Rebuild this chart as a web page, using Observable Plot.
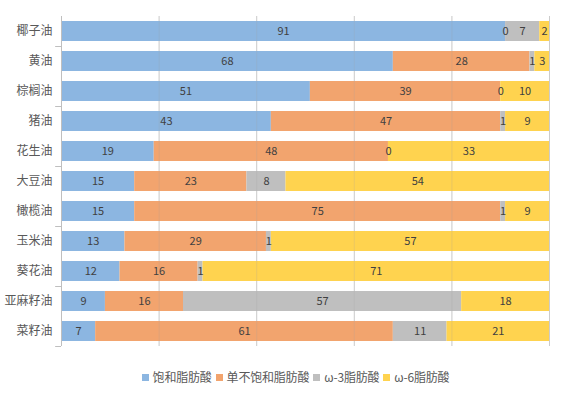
<!DOCTYPE html>
<html><head><meta charset="utf-8">
<script src="https://cdn.jsdelivr.net/npm/d3@7"></script>
<script src="https://cdn.jsdelivr.net/npm/@observablehq/plot@0.6"></script>
<style>
body{margin:0;background:#fff;font-family:"Noto Sans CJK SC","Noto Sans",sans-serif;}
#chart svg{display:block;}
#legend{display:flex;justify-content:center;align-items:center;font-size:12px;color:#595959;margin-top:9px;padding-left:30px;line-height:16px;letter-spacing:-0.2px;}
#legend .item{display:flex;align-items:center;margin-right:4px;}
#legend .sw{width:7px;height:7px;margin-right:4px;}
</style></head><body>
<div id="chart"></div>
<div id="legend"></div>
<script>
const oils = ["椰子油","黄油","棕榈油","猪油","花生油","大豆油","橄榄油","玉米油","葵花油","亚麻籽油","菜籽油"];
const series = ["饱和脂肪酸","单不饱和脂肪酸","ω-3脂肪酸","ω-6脂肪酸"];
const colors = ["#8cb6e1","#f2a46e","#bfbfbf","#ffd34f"];
const saturated = [91,68,51,43,19,15,15,13,12,9,7];
const mono = [0,28,39,47,48,23,75,29,16,16,61];
const omega3 = [7,1,0,1,0,8,1,1,1,57,11];
const omega6 = [2,3,10,9,33,54,9,57,71,18,21];
const gridTicks = [20,40,60,80,100];

const seriesValues = [saturated, mono, omega3, omega6];
const table = [];
oils.forEach((oil, i) => {
  series.forEach((s, j) => table.push({oil, type: s, value: seriesValues[j][i]}));
});
const tickOils = oils.filter((d, i) => i % 2 === 0);

const W = 565, H = 360, mt = 16, mb = 14, ml = 61, mr = 16;
const step = (H - mt - mb) / oils.length;

const plot = Plot.plot({
  width: W, height: H, marginTop: mt, marginBottom: mb, marginLeft: ml, marginRight: mr,
  style: {fontFamily: '"Noto Sans CJK SC","Noto Sans",sans-serif', fontSize: "12px", color: "#595959", background: "#fff"},
  x: {domain: [0, 100], axis: null},
  y: {domain: oils, paddingInner: 1/3, paddingOuter: 1/6, label: null, tickSize: 0, tickPadding: 9},
  color: {domain: series, range: colors},
  marks: [
    Plot.ruleX(gridTicks, {stroke: "#d9d9d9"}),
    Plot.barX(table, {x: "value", y: "oil", fill: "type", z: "type"}),
    Plot.ruleX(gridTicks, {stroke: "#a0a0a0", strokeOpacity: 0.22}),
    Plot.text(table, Plot.stackX({x: "value", y: "oil", z: "type", text: "value", fill: "#404040", fontSize: 11})),
    Plot.ruleX([0], {stroke: "#bfbfbf"}),
    Plot.ruleY(tickOils, {y: d => d, x1: -1.2, x2: 0, stroke: "#bfbfbf", dy: step / 2})
  ]
});
document.getElementById("chart").appendChild(plot);

const legend = document.getElementById("legend");
series.forEach((s, i) => {
  const item = document.createElement("div");
  item.className = "item";
  const sw = document.createElement("span");
  sw.className = "sw";
  sw.style.background = colors[i];
  const t = document.createElement("span");
  t.textContent = s;
  item.appendChild(sw); item.appendChild(t);
  legend.appendChild(item);
});
</script>
</body></html>
